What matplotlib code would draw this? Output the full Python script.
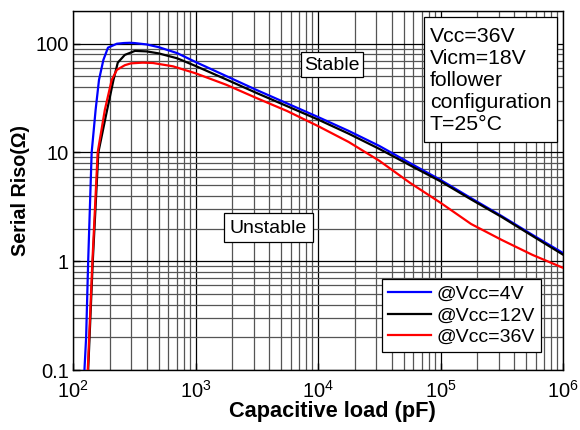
import numpy as np
import matplotlib
matplotlib.use('Agg')
import matplotlib.pyplot as plt
from matplotlib.patches import Rectangle
from matplotlib.ticker import LogLocator, FixedLocator, NullFormatter

plt.rcParams['font.family'] = ['Liberation Sans', 'DejaVu Sans']
plt.rcParams['mathtext.fontset'] = 'custom'
plt.rcParams['mathtext.rm'] = 'Liberation Sans'
plt.rcParams['mathtext.it'] = 'Liberation Sans:italic'
plt.rcParams['mathtext.bf'] = 'Liberation Sans:bold'

# capacitive load (pF) / serial Riso (ohm)
cap_4v = [124, 128, 133, 142, 153, 163, 177, 193, 228, 260, 290, 316, 400, 501,
          708, 1000, 1778, 3162, 5623, 10000, 17783, 31623, 56234, 100000,
          177828, 316228, 562341, 1000000]
riso_4v = [0.1, 0.2, 1.0, 10, 24.7, 46.5, 71, 92, 100, 101.5, 102, 101.5, 98.5, 93,
           82, 68, 50.5, 37.5, 28.2, 21.2, 15.8, 11.5, 8.0, 5.6,
           3.8, 2.6, 1.75, 1.19]

cap_12v = [133, 145, 161, 186, 214, 232, 265, 321, 400, 501, 708, 1000, 1778,
           3162, 5623, 10000, 17783, 31623, 56234, 100000, 177828, 316228,
           562341, 1000000]
riso_12v = [0.1, 1.0, 10, 22, 46.5, 67, 79, 86, 85, 81.5, 73.5, 62.5, 47,
            35.2, 26.6, 20.1, 14.9, 10.8, 7.64, 5.43, 3.7, 2.55,
            1.71, 1.15]

cap_36v = [132, 144, 159, 182, 207, 228, 265, 297, 370, 450, 655, 1000, 1778,
           3162, 5623, 10000, 17783, 31623, 56234, 100000, 177828, 316228,
           562341, 1000000]
riso_36v = [0.1, 1.0, 10, 24.7, 46.5, 57.5, 63.5, 66, 67, 66.5, 62, 53.5, 42,
            31.6, 24, 17.5, 12.5, 8.4, 5.27, 3.45, 2.2, 1.57,
            1.145, 0.87]

series_labels = ['@Vcc=4V', '@Vcc=12V', '@Vcc=36V']
y_ticks = [0.1, 1, 10, 100]
y_ticklabels = ['0.1', '1', '10', '100']
cond_text = 'Vcc=36V\nVicm=18V\nfollower\nconfiguration\nT=25°C'

fig = plt.figure(figsize=(5.8, 4.3), dpi=100)
ax = fig.add_axes([73 / 580, 1 - 370 / 430, 490 / 580, 359 / 430])


def ax_x(px):
    return (px - 73) / 490


def ax_y(py):
    return 1 - (py - 11) / 359


ax.set_xscale('log')
ax.set_yscale('log')
ax.set_xlim(1e2, 1e6)
ax.set_ylim(0.1, 200)

ax.xaxis.set_major_locator(LogLocator(base=10, numticks=10))
ax.xaxis.set_minor_locator(LogLocator(base=10, subs=np.arange(2, 10), numticks=20))
ax.xaxis.set_minor_formatter(NullFormatter())
ax.yaxis.set_major_locator(FixedLocator(y_ticks))
ax.set_yticklabels(y_ticklabels)
ax.yaxis.set_minor_locator(LogLocator(base=10, subs=np.arange(2, 10), numticks=20))
ax.yaxis.set_minor_formatter(NullFormatter())

ax.grid(which='major', color='black', lw=0.9)
ax.grid(which='minor', color='#555555', lw=0.9)
ax.set_axisbelow(True)

ax.tick_params(which='major', direction='in', length=5, width=1, labelsize=14.5)
ax.tick_params(axis='x', which='major', pad=7)
ax.tick_params(axis='y', which='major', pad=3)
ax.tick_params(which='minor', length=0)
for s in ax.spines.values():
    s.set_linewidth(1)

ax.plot(cap_4v, riso_4v, color='#0000ff', lw=1.6, label=series_labels[0], zorder=3)
ax.plot(cap_12v, riso_12v, color='black', lw=1.6, label=series_labels[1], zorder=3)
ax.plot(cap_36v, riso_36v, color='#ff0000', lw=1.6, label=series_labels[2], zorder=3)

ax.set_xlabel('Capacitive load (pF)', fontsize=15.7, fontweight='bold', labelpad=1)
ax.xaxis.set_label_coords(ax_x(332), -0.085)
ax.set_ylabel('Serial Riso(Ω)', fontsize=14.2, fontweight='bold', labelpad=4)

# boxed annotations: frame drawn as rectangles, text on top
for (x0, y0, x1, y1) in [(301, 52, 363, 77), (224, 213, 313, 242), (424, 17, 557, 142)]:
    ax.add_patch(Rectangle((ax_x(x0), ax_y(y1)), ax_x(x1) - ax_x(x0), ax_y(y0) - ax_y(y1),
                           transform=ax.transAxes, facecolor='white', edgecolor='black',
                           lw=0.9, zorder=5))
ax.text(ax_x(332), ax_y(65), 'Stable', transform=ax.transAxes,
        ha='center', va='center', fontsize=14, zorder=6)
ax.text(ax_x(268.5), ax_y(228.5), 'Unstable', transform=ax.transAxes,
        ha='center', va='center', fontsize=14, zorder=6)
ax.text(ax_x(430), ax_y(80), cond_text, transform=ax.transAxes,
        ha='left', va='center', fontsize=15.3, linespacing=1.2, zorder=6)

leg = ax.legend(loc='upper left', bbox_to_anchor=(ax_x(382), ax_y(279)),
                fontsize=14, frameon=True, fancybox=False, framealpha=1,
                edgecolor='black', borderaxespad=0, borderpad=0.32,
                handlelength=2.2, handletextpad=0.3, labelspacing=0.2)
leg.get_frame().set_linewidth(0.9)
leg.set_zorder(6)

fig.savefig('out.png', dpi=100)
